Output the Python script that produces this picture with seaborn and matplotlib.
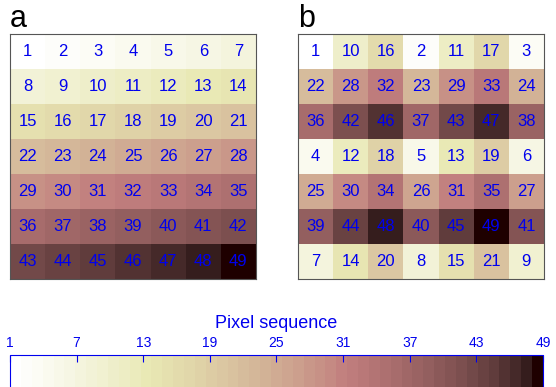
import matplotlib
matplotlib.use("Agg")
import matplotlib.pyplot as plt
import seaborn as sns
import numpy as np
from matplotlib.colors import ListedColormap, Normalize
from matplotlib.cm import ScalarMappable

plt.rcParams['font.family'] = ['Liberation Sans', 'DejaVu Sans']

# raster order (a) and interleaved order (b)
grid_a = [
    [1, 2, 3, 4, 5, 6, 7],
    [8, 9, 10, 11, 12, 13, 14],
    [15, 16, 17, 18, 19, 20, 21],
    [22, 23, 24, 25, 26, 27, 28],
    [29, 30, 31, 32, 33, 34, 35],
    [36, 37, 38, 39, 40, 41, 42],
    [43, 44, 45, 46, 47, 48, 49],
]
grid_b = [
    [1, 10, 16, 2, 11, 17, 3],
    [22, 28, 32, 23, 29, 33, 24],
    [36, 42, 46, 37, 43, 47, 38],
    [4, 12, 18, 5, 13, 19, 6],
    [25, 30, 34, 26, 31, 35, 27],
    [39, 44, 48, 40, 45, 49, 41],
    [7, 14, 20, 8, 15, 21, 9],
]
panel_labels = ["a", "b"]
cbar_ticks = [1, 7, 13, 19, 25, 31, 37, 43, 49]

cmap = ListedColormap(plt.get_cmap("pink_r")(np.linspace(0, 1, 49)))
blue = "#0000ee"

fig = plt.figure(figsize=(5.56, 3.87), dpi=100)
ax_a = fig.add_axes([10/556, 1 - 279/387, 246/556, 245/387])
ax_b = fig.add_axes([298/556, 1 - 279/387, 246/556, 245/387])

for ax, grid, lab in zip([ax_a, ax_b], [grid_a, grid_b], panel_labels):
    sns.heatmap(np.array(grid), ax=ax, cmap=cmap, vmin=1, vmax=49, cbar=False,
                annot=True, fmt="d", annot_kws={"color": blue, "fontsize": 12},
                xticklabels=False, yticklabels=False)
    for s in ax.spines.values():
        s.set_visible(True)
        s.set_color("#555555")
        s.set_linewidth(0.8)
    ax.text(0, 1.0, lab, transform=ax.transAxes, fontsize=22, va="bottom", ha="left")

cax = fig.add_axes([10/556, -0.05, 533/556, (387 - 355)/387 + 0.05])
sm = ScalarMappable(norm=Normalize(1, 49), cmap=cmap)
cb = fig.colorbar(sm, cax=cax, orientation="horizontal", ticks=cbar_ticks)
cb.outline.set_edgecolor(blue)
cax.xaxis.set_ticks_position("top")
cax.xaxis.set_label_position("top")
cax.tick_params(axis="x", direction="in", colors=blue, labelcolor=blue, labelsize=10, length=5)
cb.set_label("Pixel sequence", color=blue, fontsize=13, labelpad=6)

fig.savefig("out.png", dpi=100)
